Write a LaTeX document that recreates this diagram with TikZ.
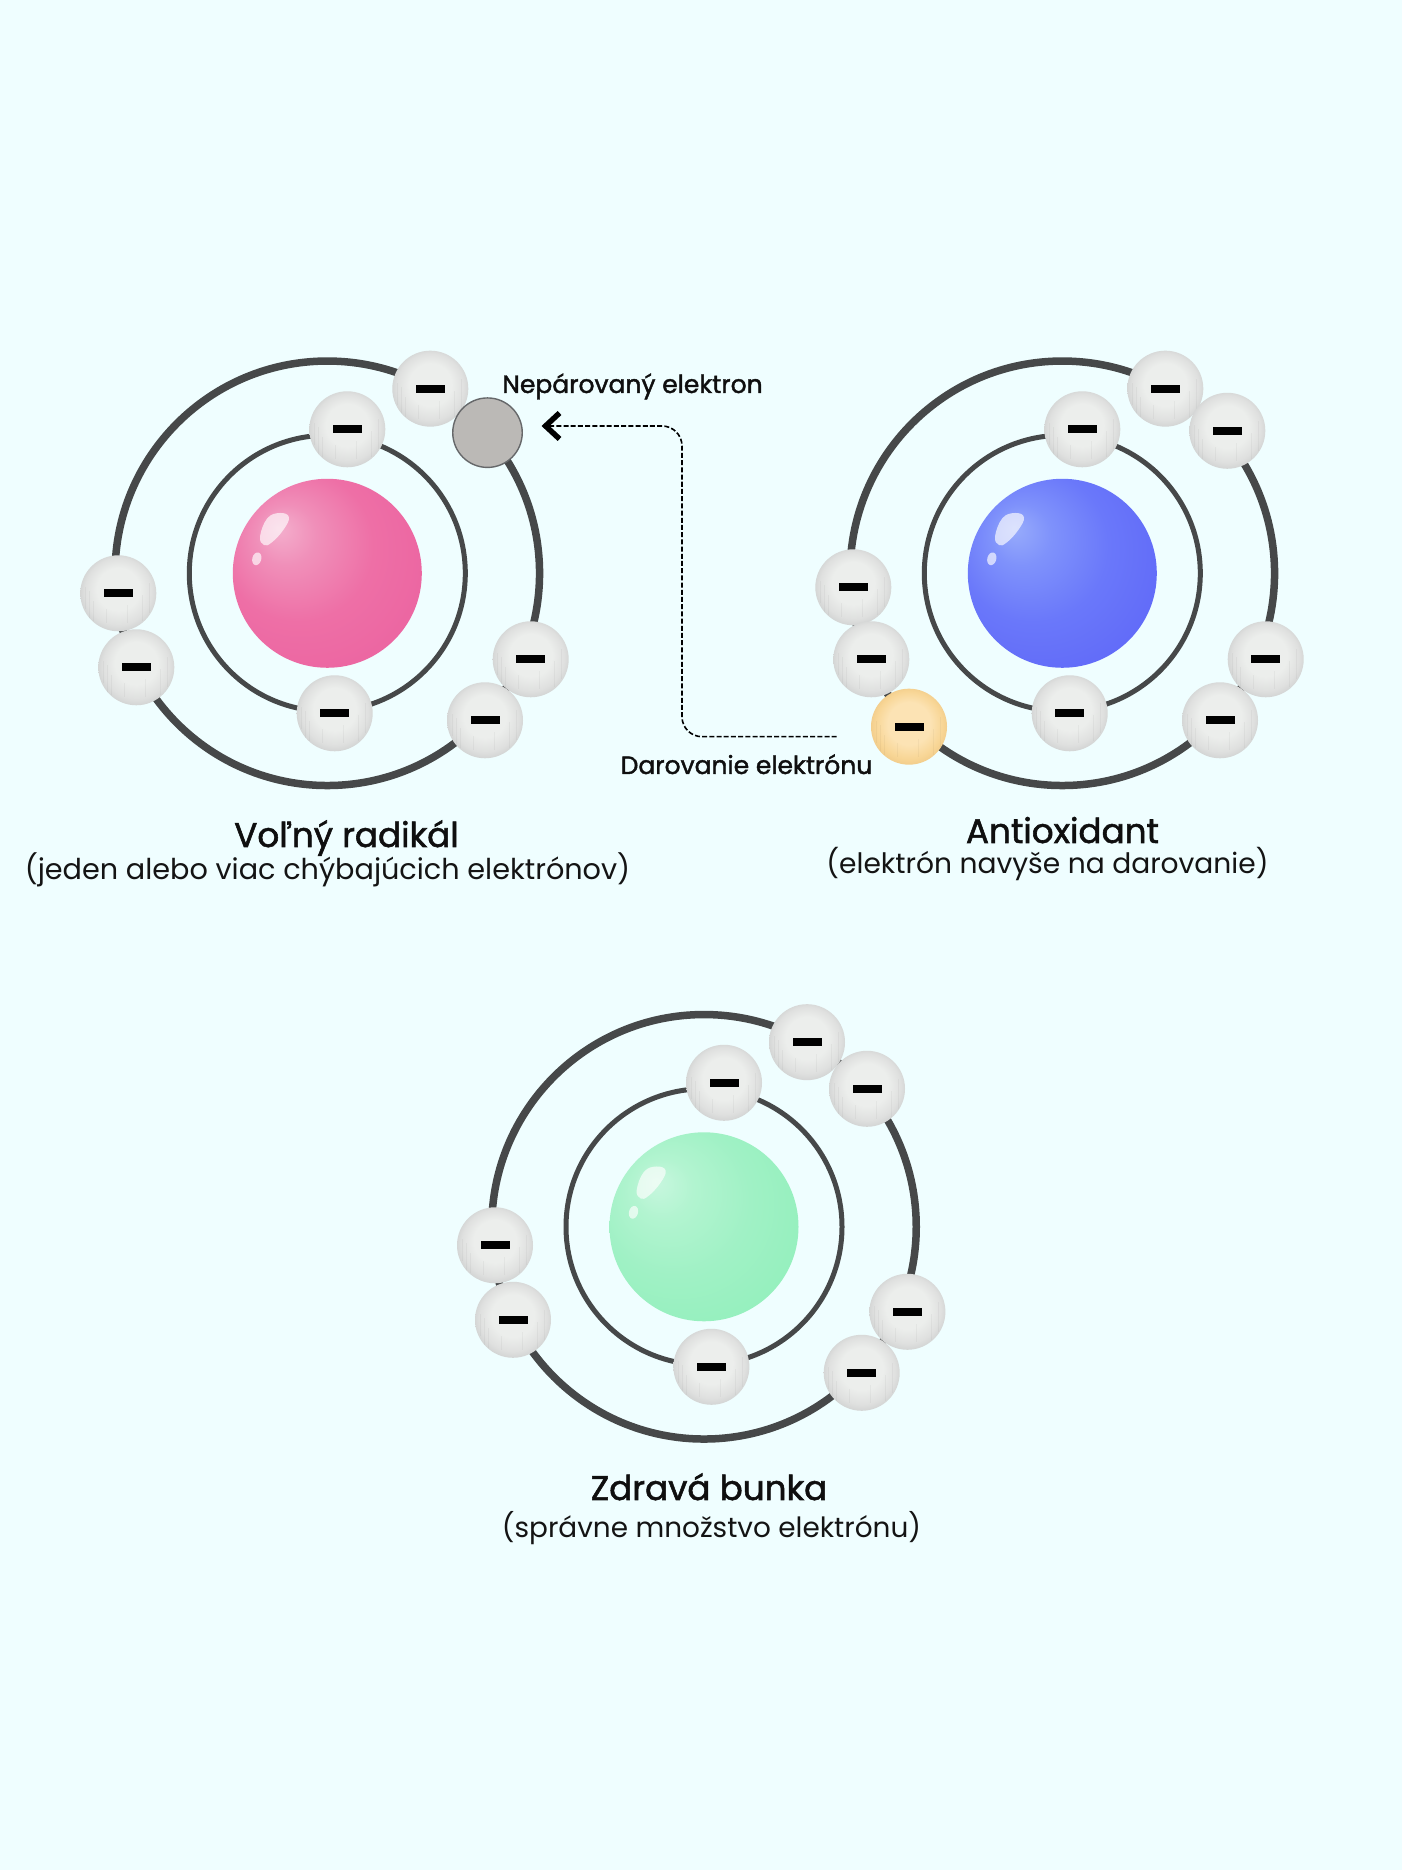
\documentclass[tikz,border=0pt]{standalone}
\usepackage{fontspec}
\setmainfont{Poppins}
\usetikzlibrary{arrows.meta,shapes.geometric,calc}

\definecolor{paper}{HTML}{EFFEFF}
\definecolor{ringgrey}{HTML}{464849}
\definecolor{vacant}{HTML}{BBB9B6}
\definecolor{vacantedge}{HTML}{66686A}
\definecolor{pinkA}{HTML}{F4AFCD}\definecolor{pinkB}{HTML}{F08FB9}
\definecolor{pinkC}{HTML}{EE6FA6}\definecolor{pinkD}{HTML}{E9589B}
\definecolor{blueA}{HTML}{98ACFB}\definecolor{blueB}{HTML}{7F92FB}
\definecolor{blueC}{HTML}{6A78FA}\definecolor{blueD}{HTML}{5558F6}
\definecolor{greenA}{HTML}{C8F7DF}\definecolor{greenB}{HTML}{B2F4D0}
\definecolor{greenC}{HTML}{A0F1C5}\definecolor{greenD}{HTML}{85EEB3}
\definecolor{ballA}{HTML}{ECEEEC}\definecolor{ballB}{HTML}{DFE0DF}
\definecolor{ballC}{HTML}{C5C7C7}
\definecolor{giftA}{HTML}{FCE3B4}\definecolor{giftB}{HTML}{F8D696}
\definecolor{giftC}{HTML}{EBC27E}

\pgfdeclareradialshading{electronball}{\pgfpoint{0bp}{5bp}}{
  color(0bp)=(ballA);
  color(14bp)=(ballA);
  color(22bp)=(ballB);
  color(30bp)=(ballC)}
\pgfdeclareradialshading{donorball}{\pgfpoint{0bp}{4bp}}{
  color(0bp)=(giftA);
  color(14bp)=(giftA);
  color(22bp)=(giftB);
  color(30bp)=(giftC)}
\pgfdeclareradialshading{pinkcore}{\pgfpoint{-13bp}{12bp}}{
  color(0bp)=(pinkA);color(8bp)=(pinkB);color(20bp)=(pinkC);color(50bp)=(pinkD)}
\pgfdeclareradialshading{bluecore}{\pgfpoint{-13bp}{12bp}}{
  color(0bp)=(blueA);color(8bp)=(blueB);color(20bp)=(blueC);color(50bp)=(blueD)}
\pgfdeclareradialshading{greencore}{\pgfpoint{-13bp}{12bp}}{
  color(0bp)=(greenA);color(8bp)=(greenB);color(20bp)=(greenC);color(50bp)=(greenD)}

\tikzset{
  outerring/.style={draw=ringgrey,line width=7.5pt,circle,minimum size=424.5pt,inner sep=0pt},
  innerring/.style={draw=ringgrey,line width=5pt,circle,minimum size=276pt,inner sep=0pt},
  core/.style={circle,minimum size=189pt,inner sep=0pt,shading=#1},
  ball/.style={circle,minimum size=76pt,inner sep=0pt,shading=electronball},
  donor/.style={circle,minimum size=76pt,inner sep=0pt,shading=donorball},
  vacantslot/.style={circle,minimum size=69.5pt,inner sep=0pt,fill=vacant,draw=vacantedge,line width=1.4pt},
  minus/.style={fill=black,minimum width=29pt,minimum height=8pt,inner sep=0pt,rectangle},
  gloss/.style={ellipse,fill=white,fill opacity=.66,inner sep=0pt},
  shinepatch/.style={fill=white,fill opacity=.66},
  grain/.style={draw=black,draw opacity=.035,line width=.7pt},
  title/.style={anchor=base,font=\fontsize{34.2}{40}\selectfont\addfontfeatures{FakeBold=1.6},text=black!94},
  subtitle/.style={anchor=base,font=\fontsize{#1}{34}\selectfont,text=black!92},
  callout/.style={anchor=base,font=\fontsize{25}{30}\selectfont\addfontfeatures{FakeBold=1.6},text=black!94},
  flow/.style={draw=black,line width=1.6pt,dash pattern=on 5pt off 2.2pt,rounded corners=20pt,
    -{Straight Barb[length=14pt,width=26pt,line width=5.5pt]}}
}

% one electron with its minus sign and the faint vertical grain of the ball: name, x, y, style
\newcommand{\electron}[4]{%
  \node[#4] (#1) at (#2,#3) {};
  \begin{scope}
    \clip (#1.center) circle (38);
    \foreach \gx/\gy/\gl in {-33/6/22,-29/2/30,-25/-8/20,-12/-16/14,9/-12/18,24/-2/26,31/10/30}
      \draw[grain] ($(#1.center)+(\gx,\gy)$) -- ++(0,-\gl);
  \end{scope}
  \node[minus] (#1m) at (#1.center) {};
}
% the glossy nucleus with its two highlights: prefix, shading
\newcommand{\nucleus}[2]{%
  \node[core=#2] (#1core) at (0,0) {};
  \fill[shinepatch] plot[smooth cycle,tension=.7] coordinates
    {(-63.3,28.3) (-67.3,36.7) (-60,55) (-47.3,60.3) (-38.3,56) (-44,43.3) (-55.7,30.7)};
  \node[gloss,minimum width=9pt,minimum height=13pt,rotate=-15] (#1spot) at (-70.5,14.5) {};
}

\begin{document}
\begin{tikzpicture}[x=1pt,y=1pt]
  \path[fill=paper,use as bounding box] (0,0) rectangle (1402,1870);

  % free radical
  \begin{scope}[shift={(327.3,1296.7)}]
    \node[outerring] (rA) at (0,0) {};
    \node[innerring] (qA) at (0,0) {};
    \nucleus{A}{pinkcore}
    \electron{a1}{103}{184.6}{ball}
    \electron{a2}{20}{144}{ball}
    \electron{a3}{-209}{-20}{ball}
    \electron{a4}{-191}{-94}{ball}
    \electron{a5}{7.4}{-140}{ball}
    \electron{a6}{203.4}{-86}{ball}
    \electron{a7}{157.7}{-147}{ball}
    \node[vacantslot] (gap) at (160.2,140.6) {};
  \end{scope}

  % antioxidant
  \begin{scope}[shift={(1062.3,1296.7)}]
    \node[outerring] (rB) at (0,0) {};
    \node[innerring] (qB) at (0,0) {};
    \nucleus{B}{bluecore}
    \electron{b1}{103}{184.6}{ball}
    \electron{b2}{20}{144}{ball}
    \electron{b8}{165}{142.5}{ball}
    \electron{b3}{-209}{-14}{ball}
    \electron{b4}{-191}{-86}{ball}
    \electron{b5}{7.4}{-140}{ball}
    \electron{b6}{203.4}{-86}{ball}
    \electron{b7}{157.7}{-147}{ball}
    \electron{give}{-153.3}{-153.4}{donor}
  \end{scope}

  % healthy cell
  \begin{scope}[shift={(704,643.2)}]
    \node[outerring] (rC) at (0,0) {};
    \node[innerring] (qC) at (0,0) {};
    \nucleus{C}{greencore}
    \electron{c1}{103}{184.6}{ball}
    \electron{c2}{20}{144}{ball}
    \electron{c8}{163}{138}{ball}
    \electron{c3}{-209}{-18.5}{ball}
    \electron{c4}{-191}{-93}{ball}
    \electron{c5}{7.4}{-140}{ball}
    \electron{c6}{203.4}{-85}{ball}
    \electron{c7}{157.7}{-146}{ball}
  \end{scope}

  % electron hand-over
  \coordinate (from) at (836.7,1133.3);
  \coordinate (bendlow) at (682,1133.3);
  \coordinate (bendhigh) at (682,1444);
  \coordinate (to) at (541.5,1444);
  \draw[flow] (from) -- (bendlow) -- (bendhigh) -- (to);

  % labels
  \node[callout] (tUnpaired) at (632.5,1477) {Nepárovaný elektron};
  \node[callout] (tDonate) at (746.5,1096) {Darovanie elektrónu};
  \node[title] (tRadical) at (346.5,1023) {Voľný radikál};
  \node[subtitle=28.7] (sRadical) at (327.5,990.5) {(jeden alebo viac chýbajúcich elektrónov)};
  \node[title] (tAnti) at (1062.5,1027) {Antioxidant};
  \node[subtitle=28.1] (sAnti) at (1047.5,996.5) {(elektrón navyše na darovanie)};
  \node[title] (tCell) at (709,370) {Zdravá bunka};
  \node[subtitle=27.9] (sCell) at (711.5,332.6) {(správne množstvo elektrónu)};
\end{tikzpicture}
\end{document}
